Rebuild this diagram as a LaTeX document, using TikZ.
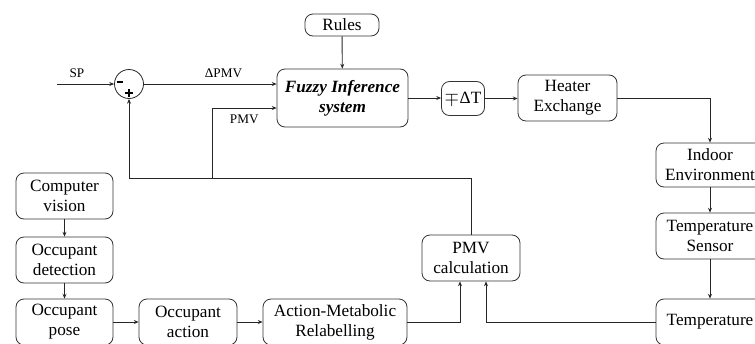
\documentclass[tikz,border=0pt]{standalone}
\usepackage{fontspec}
\setmainfont{Liberation Serif}
\usetikzlibrary{arrows.meta}

\tikzset{
  block/.style={draw=black!80, rounded corners=4pt, align=center, inner sep=0pt,
    font=\fontsize{8.6pt}{10pt}\selectfont, minimum height=23pt},
  arr/.style={draw=black!85, line width=0.45pt, -{Stealth[length=2.4pt,width=2pt]}},
  lbl/.style={font=\fontsize{6.6pt}{7pt}\selectfont, inner sep=0pt},
  sign/.style={line width=1.4pt}
}

\begin{document}
\begin{tikzpicture}[x=0.5pt,y=-0.5pt]
\useasboundingbox (0,0) rectangle (755,343);
\clip (0,0) rectangle (755,343);

% controller
\node[block, minimum width=37pt, minimum height=11pt] (rules) at (342,25) {Rules};
\node[block, minimum width=65.5pt, minimum height=29pt] (fis) at (342.5,98)
  {\textbf{\textit{Fuzzy Inference}}\\\textbf{\textit{system}}};
\node[block, minimum width=21.5pt, minimum height=17pt] (dT) at (463,98.5) {$\mp$\kern0.3pt ΔT};
\node[block, minimum width=49.5pt] (heater) at (567.5,98) {Heater\\Exchange};

% plant and sensing
\node[block, minimum width=54pt, minimum height=22pt] (indoor) at (710,165) {Indoor\\Environment};
\node[block, minimum width=54pt] (sensor) at (710,236) {Temperature\\Sensor};
\node[block, minimum width=54pt] (temp) at (710,322) {Temperature};

% occupant chain
\node[block, minimum width=48.5pt] (vision) at (64.5,196) {Computer\\vision};
\node[block, minimum width=48.5pt] (detect) at (64.5,260) {Occupant\\detection};
\node[block, minimum width=48.5pt] (pose) at (64.5,322) {Occupant\\pose};
\node[block, minimum width=49pt] (action) at (188,322) {Occupant\\action};
\node[block, minimum width=72pt] (relabel) at (335,322) {Action-Metabolic\\Relabelling};
\node[block, minimum width=49pt] (pmvcalc) at (471,258) {PMV\\calculation};

% summing junction with its signs
\node[draw=black!85, circle, minimum size=14.5pt, inner sep=0pt] (sum) at (129,84) {};
\draw[sign] (116.5,82) -- (123,82);
\draw[sign] (125,93) -- (133,93) (129,89) -- (129,97);

\coordinate (sp) at (57,84);
\coordinate (fb) at (471,178);
\coordinate (branch) at (212,178);

\draw[arr] (sp) -- (sum) node[lbl, pos=0.35, above=3pt] {SP};
\draw[arr] (sum) -- (sum -| fis.west) node[lbl, pos=0.6, above=3pt] {ΔPMV};
\draw[arr] (branch) |- ([yshift=-5pt]fis.west) node[lbl, pos=0.75, below=3pt] {PMV};
\draw[arr] (pmvcalc.north) -- (fb) -| (sum.south);

\draw[arr] (rules) -- (fis);
\draw[arr] (fis.east) -- (fis.east -| dT.west);
\draw[arr] (dT.east) -- (dT.east -| heater.west);
\draw[arr] (heater.east) -| (indoor.north);
\draw[arr] (indoor) -- (sensor);
\draw[arr] (sensor) -- (temp);
\draw[arr] (temp.west) -| ([xshift=7.5pt]pmvcalc.south);

\draw[arr] (vision) -- (detect);
\draw[arr] (detect) -- (pose);
\draw[arr] (pose) -- (action);
\draw[arr] (action) -- (relabel);
\draw[arr] (relabel.east) -| ([xshift=-5.5pt]pmvcalc.south);
\end{tikzpicture}
\end{document}
